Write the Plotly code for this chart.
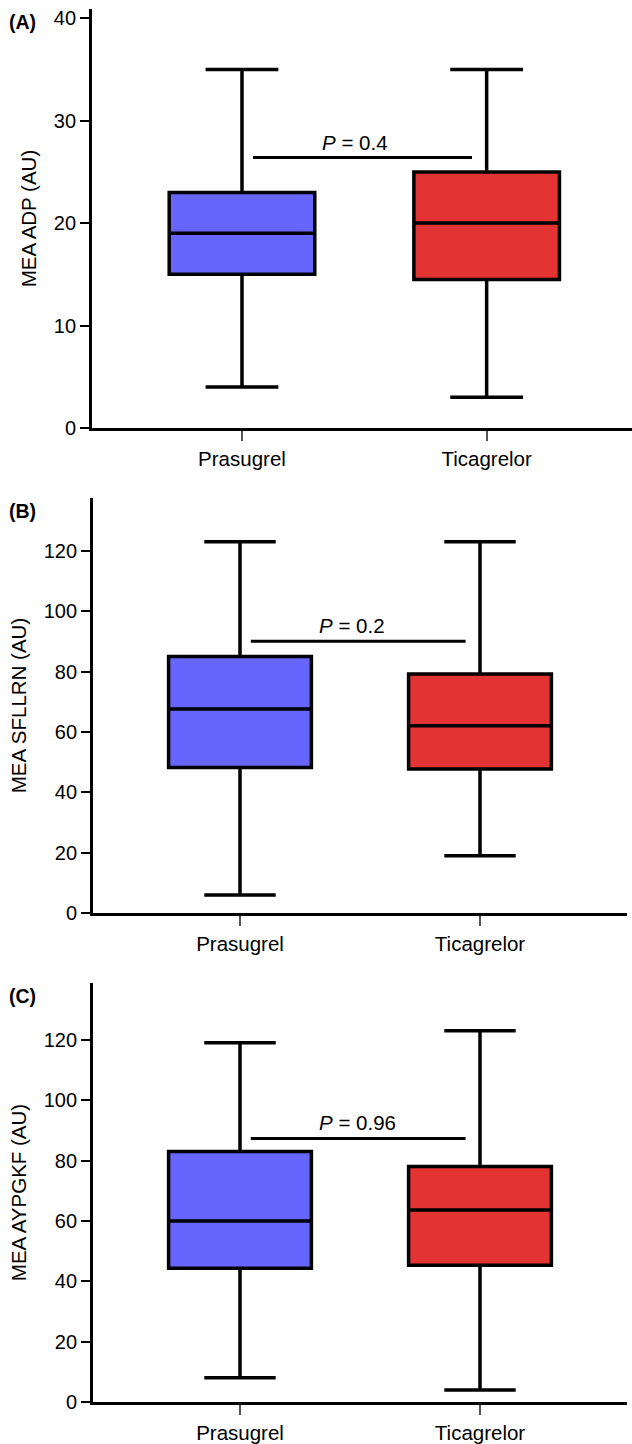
import plotly.graph_objects as go

# ---------------- data ----------------
categories = ["Prasugrel", "Ticagrelor"]
panel_labels = ["(A)", "(B)", "(C)"]
y_titles = ["MEA ADP (AU)", "MEA SFLLRN (AU)", "MEA AYPGKF (AU)"]
p_values = ["0.4", "0.2", "0.96"]

# Panel A: MEA ADP  [Prasugrel, Ticagrelor]
lower_A = [4, 3]
q1_A = [15, 14.5]
median_A = [19, 20]
q3_A = [23, 25]
upper_A = [35, 35]

# Panel B: MEA SFLLRN
lower_B = [6, 19]
q1_B = [48.2, 47.7]
median_B = [67.6, 62]
q3_B = [85, 79.2]
upper_B = [123, 123]

# Panel C: MEA AYPGKF
lower_C = [8, 4]
q1_C = [44.3, 45.3]
median_C = [60, 63.6]
q3_C = [83, 78]
upper_C = [119, 123]

# y position of the significance bracket and its label
p_line_y = [26.4, 90, 87.3]
p_text_y = [27.9, 95.2, 92.6]

y_tickvals = [[0, 10, 20, 30, 40],
              [0, 20, 40, 60, 80, 100, 120],
              [0, 20, 40, 60, 80, 100, 120]]
y_ranges = [[0, 40.9], [0, 137.5], [0, 138.8]]

# ---------------- styling ----------------
W, H = 632, 1444
FONT = "Liberation Sans, Arial, sans-serif"
fill_colors = ["#6666ff", "#e33333"]

# pixel layout of the three panels (top, bottom, left, right)
panels_px = [(9, 428, 92, 632), (498, 913, 93, 627), (983, 1402, 93, 627)]
x_ranges = [[-0.613, 1.594], [-0.6125, 1.6125], [-0.6125, 1.6125]]

data_sets = [
    (lower_A, q1_A, median_A, q3_A, upper_A),
    (lower_B, q1_B, median_B, q3_B, upper_B),
    (lower_C, q1_C, median_C, q3_C, upper_C),
]

fig = go.Figure()
layout = dict(
    width=W, height=H,
    margin=dict(l=0, r=0, t=0, b=0, autoexpand=False),
    paper_bgcolor="white", plot_bgcolor="white",
    showlegend=False,
    boxmode="overlay",
    font=dict(family=FONT, color="black", size=20),
)
shapes = []
annotations = []

for i, (lo, q1, med, q3, up) in enumerate(data_sets):
    ax = "" if i == 0 else str(i + 1)
    xname, yname = "x" + ax, "y" + ax
    top, bottom, left, right = panels_px[i]
    for j, cat in enumerate(categories):
        fig.add_trace(go.Box(
            x=[cat], q1=[q1[j]], median=[med[j]], q3=[q3[j]],
            lowerfence=[lo[j]], upperfence=[up[j]],
            xaxis=xname, yaxis=yname,
            fillcolor=fill_colors[j],
            line=dict(color="black", width=3.5),
            width=0.595, whiskerwidth=0.5,
            boxpoints=False, hoverinfo="skip", showlegend=False,
        ))
    layout["xaxis" + ax] = dict(
        domain=[left / W, right / W],
        anchor=yname,
        type="category",
        categoryorder="array", categoryarray=categories,
        range=x_ranges[i],
        automargin=False,
        showline=True, linecolor="black", linewidth=2.8,
        ticks="outside", ticklen=10, tickwidth=1.5, tickcolor="#555555",
        tickfont=dict(size=20.5, family=FONT, color="black"),
        showgrid=False, zeroline=False, fixedrange=True,
    )
    layout["yaxis" + ax] = dict(
        domain=[1 - bottom / H, 1 - top / H],
        anchor=xname,
        range=y_ranges[i],
        tickvals=y_tickvals[i],
        automargin=False,
        showline=True, linecolor="black", linewidth=2.8,
        ticks="outside", ticklen=9, tickwidth=1.5, tickcolor="black",
        tickfont=dict(size=20, family=FONT, color="black"),
        title=dict(text=y_titles[i], font=dict(size=20.5, family=FONT, color="black"),
                   standoff=12),
        showgrid=False, zeroline=False, fixedrange=True,
    )
    # significance bracket
    shapes.append(dict(type="line", xref=xname, yref=yname,
                       x0=0.045, x1=0.94, y0=p_line_y[i], y1=p_line_y[i],
                       line=dict(color="black", width=3)))
    annotations.append(dict(xref=xname, yref=yname, x=0.32, y=p_text_y[i],
                            xanchor="left", yanchor="middle", showarrow=False,
                            text="<i>P</i> = " + p_values[i],
                            font=dict(size=20.5, family=FONT, color="black")))
    # panel letter
    annotations.append(dict(xref="paper", yref="paper", x=7 / W,
                            y=1 - (top + 13) / H,
                            xanchor="left", yanchor="middle", showarrow=False,
                            text="<b>" + panel_labels[i] + "</b>",
                            font=dict(size=19.5, family=FONT, color="black")))

layout["shapes"] = shapes
layout["annotations"] = annotations
fig.update_layout(**layout)

post = """
document.documentElement.style.margin='0';
document.body.style.margin='0';
document.body.style.overflow='hidden';
"""
fig.write_html("out.html", config={"displayModeBar": False}, post_script=post)
